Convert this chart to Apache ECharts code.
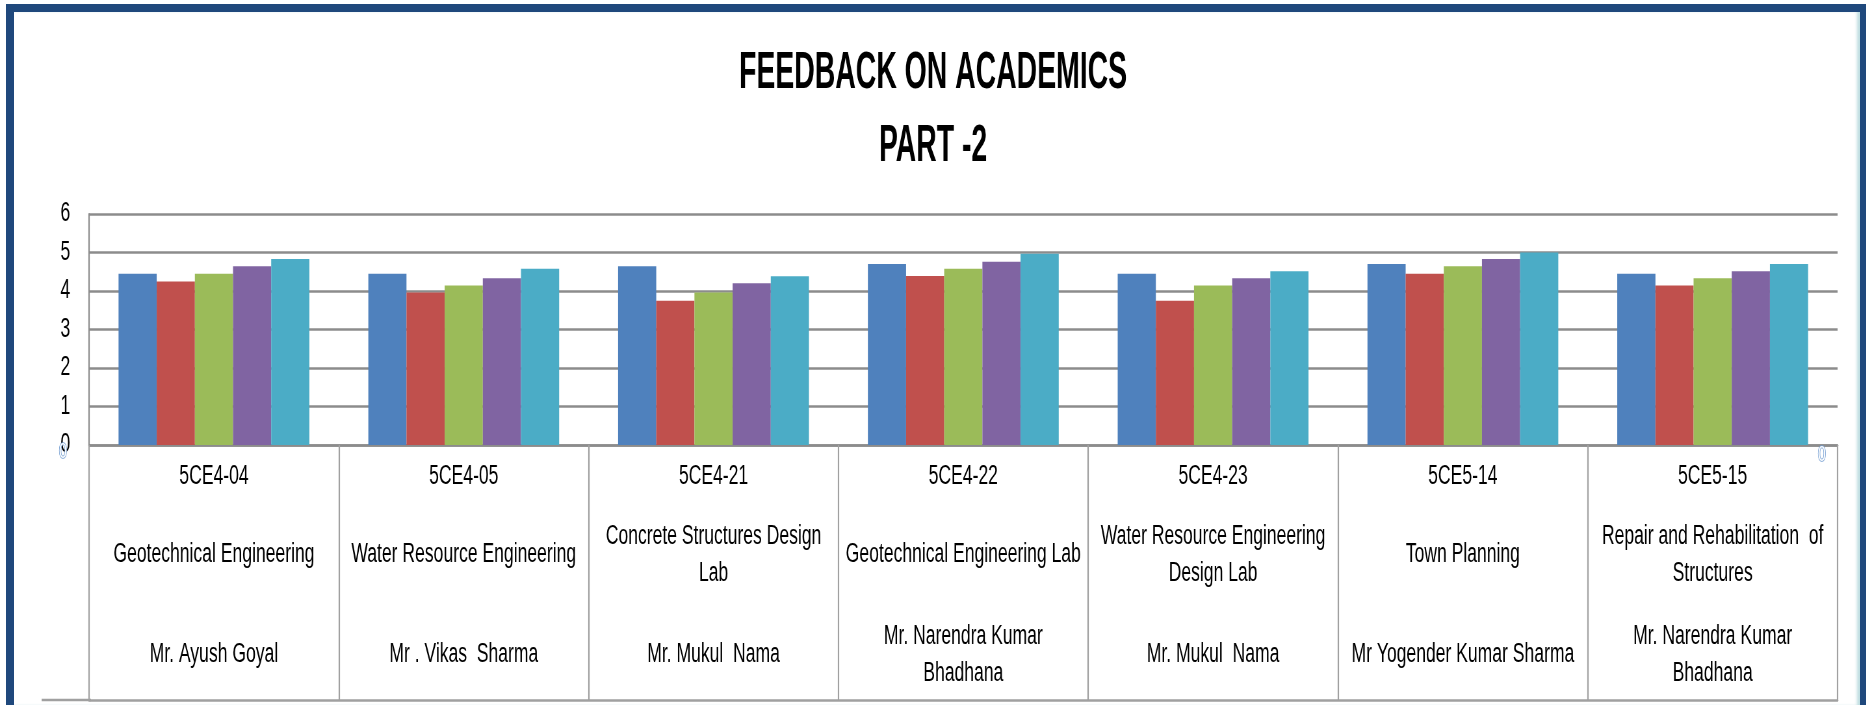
<!DOCTYPE html>
<html>
<head>
<meta charset="utf-8">
<title>Feedback on Academics - Part 2</title>
<script src="https://cdn.jsdelivr.net/npm/echarts@6/dist/echarts.min.js"></script>
<style>
  html, body { margin: 0; padding: 0; background: #ffffff; overflow: hidden; }
  body { width: 1866px; height: 705px; position: relative; }
  /* chart is laid out wide and squeezed horizontally for a condensed look */
  #chart {
    position: absolute; left: 0; top: 0;
    width: 2871px; height: 705px;
    transform: scaleX(0.65); transform-origin: 0 0;
  }
  #frame {
    position: absolute; left: 6px; top: 4px; width: 1860px; height: 705px;
    box-sizing: border-box;
    border-left: 8px solid #1f487c; border-top: 8px solid #1f487c;
    border-right: 6px solid #1f487c; border-bottom: 4px solid #1f487c;
    box-shadow: inset -4px 0 3px -1px rgba(150, 200, 205, 0.6);
    pointer-events: none; z-index: 2;
  }
</style>
</head>
<body>
<div id="chart"></div>
<div id="frame"></div>
<script>
// Course codes, subjects and teachers shown in the table under the bars
const codes = ['5CE4-04', '5CE4-05', '5CE4-21', '5CE4-22', '5CE4-23', '5CE5-14', '5CE5-15'];
const subjects = [
  'Geotechnical Engineering',
  'Water Resource Engineering',
  'Concrete Structures Design\nLab',
  'Geotechnical Engineering Lab',
  'Water Resource Engineering\nDesign Lab',
  'Town Planning',
  'Repair and Rehabilitation  of\nStructures'
];
const teachers = [
  'Mr. Ayush Goyal',
  'Mr . Vikas  Sharma',
  'Mr. Mukul  Nama',
  'Mr. Narendra Kumar\nBhadhana',
  'Mr. Mukul  Nama',
  'Mr Yogender Kumar Sharma',
  'Mr. Narendra Kumar\nBhadhana'
];

// Average feedback scores, one array per question
const q1 = [4.45, 4.45, 4.64, 4.70, 4.45, 4.70, 4.45];
const q2 = [4.25, 3.96, 3.75, 4.39, 3.75, 4.45, 4.14];
const q3 = [4.45, 4.14, 3.96, 4.58, 4.14, 4.64, 4.33];
const q4 = [4.64, 4.33, 4.20, 4.76, 4.33, 4.83, 4.51];
const q5 = [4.83, 4.58, 4.38, 4.97, 4.51, 5.00, 4.70];

const seriesNames = ['Q1', 'Q2', 'Q3', 'Q4', 'Q5'];
const seriesData = [q1, q2, q3, q4, q5];
const seriesColors = ['#4f81bd', '#c0504d', '#9bbb59', '#8064a2', '#4bacc6'];

const yTicks = { min: 0, max: 6, interval: 1 };

const titleText = 'FEEDBACK ON ACADEMICS\nPART -2';

const FONT = "'Liberation Sans', Arial, sans-serif";
const GRID_LINE = '#8c8c8c';
const TABLE_LINE = '#a0a0a0';
const TABLE_DEPTH = 255;
const CHART_W = 2871;

const chart = echarts.init(document.getElementById('chart'));

function labelAxis(data, margin, withLine) {
  return {
    type: 'category',
    data: data,
    gridIndex: 0,
    position: 'bottom',
    axisLine: withLine
      ? { show: true, onZero: false, lineStyle: { color: GRID_LINE, width: 2.5 } }
      : { show: false },
    axisTick: withLine
      ? { show: true, interval: 0, alignWithLabel: false, length: TABLE_DEPTH,
          lineStyle: { color: TABLE_LINE, width: 2.2 } }
      : { show: false },
    axisLabel: {
      show: true, interval: 0, margin: margin, verticalAlign: 'middle',
      fontFamily: FONT, fontSize: 27, lineHeight: 37.5, color: '#000000'
    },
    splitLine: { show: false }
  };
}

const zeroMark = {
  text: '0', fontFamily: FONT, fontSize: 22,
  fill: '#ffffff', stroke: '#6e9ad0', lineWidth: 1.5
};

chart.setOption({
  animation: false,
  backgroundColor: '#ffffff',
  grid: { left: 137, right: 44, top: 214, bottom: 260, containLabel: false },
  xAxis: [
    labelAxis(codes, 32, true),
    labelAxis(subjects, 110, false),
    labelAxis(teachers, 210, false),
    {
      type: 'category', data: codes, gridIndex: 0, position: 'bottom', offset: TABLE_DEPTH,
      axisLine: { show: true, onZero: false, lineStyle: { color: TABLE_LINE, width: 2.5 } },
      axisTick: { show: false }, axisLabel: { show: false }, splitLine: { show: false }
    }
  ],
  yAxis: {
    type: 'value',
    min: yTicks.min, max: yTicks.max, interval: yTicks.interval,
    axisLine: { show: true, lineStyle: { color: GRID_LINE, width: 2.2 } },
    axisTick: { show: false },
    axisLabel: { margin: 29, fontFamily: FONT, fontSize: 27, color: '#000000' },
    splitLine: { show: true, lineStyle: { color: GRID_LINE, width: 2.5 } }
  },
  series: seriesNames.map(function (name, i) {
    return {
      name: name,
      type: 'bar',
      xAxisIndex: 0,
      data: seriesData[i],
      barGap: '0%',
      barCategoryGap: '23.6%',
      itemStyle: { color: seriesColors[i] },
      emphasis: { disabled: true }
    };
  }),
  graphic: [
    // two-line heading, narrowed a little more than the rest of the text
    { type: 'text', x: CHART_W / 2, y: 37, scaleX: 0.84, z: 10,
      style: { text: titleText, align: 'center', verticalAlign: 'top',
               fontFamily: FONT, fontWeight: 'bold', fontSize: 52, lineHeight: 73, fill: '#000000' } },
    // table bottom rule reaches a little left of the value axis
    { type: 'line', z: 1,
      shape: { x1: 64, y1: 700, x2: 140, y2: 700 },
      style: { stroke: TABLE_LINE, lineWidth: 2.5 } },
    { type: 'text', left: 90, top: 440, z: 10, style: zeroMark },
    { type: 'text', left: 2796, top: 443, z: 10, style: zeroMark }
  ]
});
</script>
</body>
</html>
